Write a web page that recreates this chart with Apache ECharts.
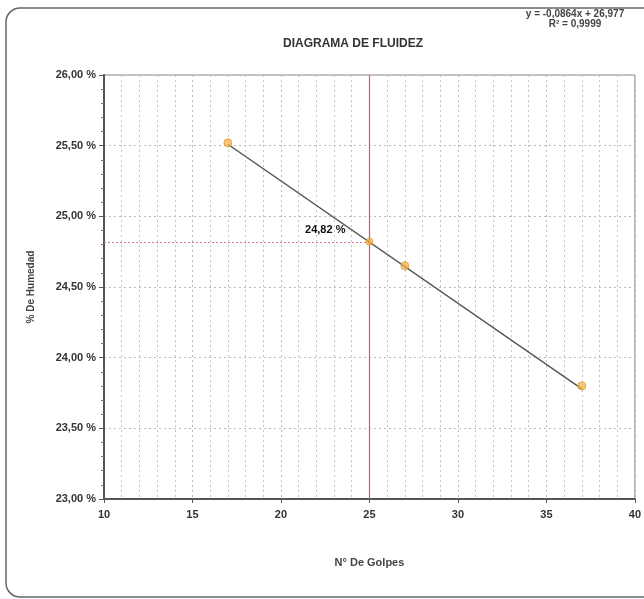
<!DOCTYPE html>
<html><head><meta charset="utf-8">
<script src="https://cdn.jsdelivr.net/npm/echarts@6/dist/echarts.min.js"></script>
<style>html,body{margin:0;padding:0;background:#fff}#c{width:644px;height:599px}</style>
</head><body><div id="c"></div>
<script>
const golpes = [17, 27, 37];
const humedad = [25.52, 24.65, 23.80];
const lcGolpes = 25;
const lcHumedad = 24.82;
const trendX = [17, 37];
const trendY = [25.51, 23.78];
const xTicks = [10, 15, 20, 25, 30, 35, 40];
const yTicks = [23.0, 23.5, 24.0, 24.5, 25.0, 25.5, 26.0];
const titleText = 'DIAGRAMA DE FLUIDEZ';
const eqText = 'y = -0,0864x + 26,977';
const r2Text = 'R² = 0,9999';

const F = "'Liberation Sans Narrow','Arial Narrow','Liberation Sans',Arial,sans-serif";
const fmt = v => v.toFixed(2).replace('.', ',') + ' %';
const chart = echarts.init(document.getElementById('c'), null, {renderer: 'canvas'});
const markerStyle = {color: 'rgba(245,175,60,0.85)', borderColor: '#d99a30', borderWidth: 1};

chart.setOption({
  animation: false,
  backgroundColor: '#fff',
  title: [
    {text: titleText, left: 348, top: 33, textAlign: 'center',
     textStyle: {fontFamily: F, fontWeight: 'bold', fontSize: 12, color: '#333'}},
    {text: eqText + '\n' + r2Text, left: 570, top: 4, textAlign: 'center',
     textStyle: {fontFamily: F, fontWeight: 'bold', fontSize: 10, color: '#444', lineHeight: 10, align: 'center'}}
  ],
  graphic: [
    {type: 'rect', shape: {x: 6, y: 8, width: 700, height: 589, r: 14},
     style: {fill: 'none', stroke: '#666', lineWidth: 1.5}, silent: true, z: -1},
    {type: 'text', z: 10, silent: true,
     position: [0, 0],
     style: {text: '', fill: '#222'}}
  ],
  grid: {left: 104, right: 7, top: 75, bottom: 100, show: true, borderColor: '#888', borderWidth: 1},
  xAxis: {
    type: 'value', min: xTicks[0], max: xTicks[xTicks.length - 1], interval: 5,
    name: 'N° De Golpes', nameLocation: 'middle', nameGap: 58,
    nameTextStyle: {fontFamily: F, fontWeight: 'bold', fontSize: 11, color: '#444'},
    axisLine: {lineStyle: {color: '#555', width: 2}},
    axisTick: {show: true, length: 4, inside: false, lineStyle: {color: '#555'}},
    axisLabel: {fontFamily: F, fontWeight: 'bold', fontSize: 11, color: '#333', margin: 10},
    splitLine: {show: true, lineStyle: {color: '#bbb', type: [2, 3], width: 1}},
    minorTick: {show: false, splitNumber: 5},
    minorSplitLine: {show: true, lineStyle: {color: '#c4c4c4', type: [2, 3], width: 1}}
  },
  yAxis: {
    type: 'value', min: yTicks[0], max: yTicks[yTicks.length - 1], interval: 0.5,
    name: '% De Humedad', nameLocation: 'middle', nameGap: 68, nameRotate: 90,
    nameTextStyle: {fontFamily: F, fontWeight: 'bold', fontSize: 10, color: '#444'},
    axisLine: {show: true, lineStyle: {color: '#555', width: 2}},
    axisTick: {show: true, length: 5, lineStyle: {color: '#555'}},
    minorTick: {show: true, splitNumber: 5, length: 3, lineStyle: {color: '#777'}},
    axisLabel: {fontFamily: F, fontWeight: 'bold', fontSize: 11, color: '#333', margin: 8, formatter: fmt},
    splitLine: {show: true, lineStyle: {color: '#bbb', type: [2, 3], width: 1}}
  },
  series: [
    {
      type: 'line', data: trendX.map((x, i) => [x, trendY[i]]), symbol: 'none',
      lineStyle: {color: '#555', width: 1.5}, z: 3
    },
    {
      type: 'line', data: [], symbol: 'none', z: 4,
      markLine: {
        silent: true, symbol: 'none', label: {show: false}, animation: false,
        lineStyle: {color: '#e5506f', width: 1.2, type: 'solid', opacity: 1},
        data: [{xAxis: lcGolpes}]
      }
    },
    {
      type: 'line', data: [], symbol: 'none', z: 2,
      markLine: {
        silent: true, symbol: 'none', label: {show: false}, animation: false,
        lineStyle: {color: '#d87a8a', width: 1, type: [2, 2]},
        data: [[{coord: [xTicks[0], lcHumedad]}, {coord: [lcGolpes, lcHumedad]}]]
      }
    },
    {
      type: 'scatter', data: golpes.map((x, i) => [x, humedad[i]]), symbolSize: 8,
      itemStyle: markerStyle, z: 5
    },
    {
      type: 'scatter', data: [[lcGolpes, lcHumedad]], symbolSize: 7,
      itemStyle: markerStyle, z: 5,
      label: {show: true, position: 'left', distance: 20, offset: [0, -12],
        formatter: () => fmt(lcHumedad), opacity: 1,
        fontFamily: F, fontWeight: 'bold', fontSize: 11, color: '#111'}
    }
  ]
});
</script></body></html>
